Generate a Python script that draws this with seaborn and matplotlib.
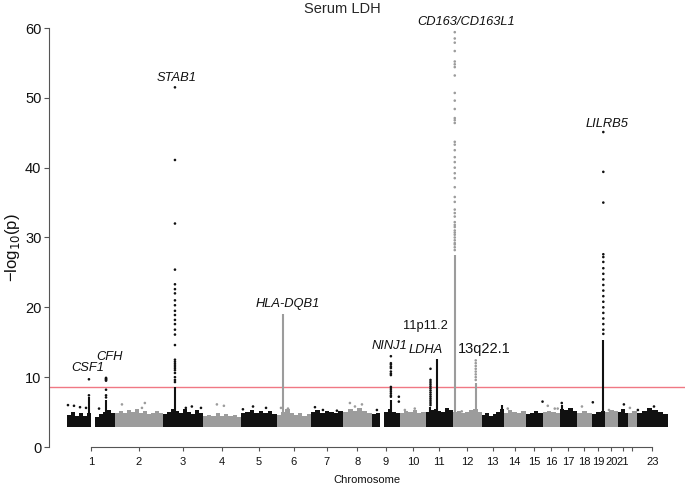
import numpy as np
import pandas as pd
import seaborn as sns
import matplotlib.pyplot as plt

# chromosome lengths (Mb) and tick labels
chrom_len = [247, 247, 206, 196, 185, 175, 165, 149, 144, 134, 139, 149,
             113, 113, 88, 88, 88, 77, 67, 67, 52, 46, 160]
chrom_labels = [str(i) for i in range(1, 22)] + ['', '23']

# top of the dense band of SNPs, read at equal steps along each chromosome (nan = gap)
band_profile = [
    [4.6, 5.0, 4.4, 4.8, 4.5, 4.9, np.nan, 4.3, 4.7, 5.0, 5.3, 4.8],
    [4.9, 5.2, 4.8, 5.3, 5.0, 5.4, 4.9, 5.1, 4.7, 4.9, 5.2, 4.8],
    [4.7, 5.0, 5.4, 5.2, 4.8, 5.4, 5.0, 4.7, 5.3, 4.9],
    [4.4, 4.6, 4.5, 4.8, 4.4, 4.7, 4.5, 4.6, 4.3],
    [4.8, 5.0, 5.3, 4.9, 5.1, 4.8, 5.2, 4.7],
    [4.6, 5.0, 5.4, 4.8, 4.6, 4.9, 4.5, 4.7],
    [5.0, 5.3, 4.9, 5.2, 5.0, 4.8, 5.1],
    [5.0, 5.5, 5.2, 5.6, 5.1, 4.9],
    [4.7, 4.9, np.nan, 5.0, 5.4, 5.0, 4.8],
    [4.9, 5.2, 5.0, 5.3, 4.8, 5.0],
    [5.0, 5.3, 5.5, 5.2, 5.0, 5.6, 5.3],
    [5.0, 5.2, 4.9, 5.0, 5.3, 5.5, 5.0],
    [4.6, 4.8, 4.5, 4.7, 5.0, 5.4],
    [4.9, 5.3, 5.0, 4.8, 5.1],
    [4.7, 4.9, 5.1, 4.8],
    [5.0, 5.2, 5.0, 4.9],
    [5.5, 5.3, 5.6, 5.2],
    [4.8, 5.1, 4.9],
    [4.7, 5.0, 5.2],
    [5.0, 5.3, 5.1],
    [5.0, 5.4, 4.8],
    [4.9, 5.1],
    [4.8, 5.2, 5.6, 5.3, 5.0, 4.7],
]

# dense stacks of SNPs drawn as solid columns
col_chrom = [1, 1, 3, 6, 9, 11, 11, 12, 12, 19, 13, 17]
col_pos = [113, 201, 62, 31, 98, 24, 57, 10, 118, 59, 103, 10]
col_top = [7.2, 6.7, 8.6, 19.0, 6.7, 5.7, 12.6, 27.5, 9.2, 15.3, 6.0, 6.0]

# single SNPs in the peaks
csf1_logp = [9.7, 7.4]
cfh_logp = [9.9, 9.8, 9.7, 9.6, 9.5, 8.2, 7.4, 7.1]
stab1_logp = [51.5, 41.1, 32.0, 25.4, 23.3, 22.6, 22.0, 21.0, 20.3, 19.5, 18.9,
              18.2, 17.6, 16.8, 16.1, 14.6, 12.5, 12.2, 11.9, 11.6, 11.3, 11.0,
              10.6, 10.0, 9.6, 9.3]
ninj1_logp = [13.0, 12.0, 11.8, 11.5, 11.3, 10.8, 10.5, 10.3, 8.6, 8.3, 8.0,
              7.7, 7.4, 7.2]
chr9b_logp = [7.2, 6.5]
ldha_logp = [11.2, 9.6, 9.3, 9.0, 8.7, 8.4, 8.1, 7.8, 7.5, 7.2, 6.9, 6.6, 6.3, 6.0]
cd163_logp = [59.4, 58.5, 57.9, 56.7, 55.2, 54.8, 54.4, 53.2, 50.7, 49.6, 48.4,
              47.1, 46.8, 46.4, 43.7, 43.3, 42.5, 41.5, 40.8, 40.0, 39.2, 38.5,
              37.2, 35.8, 35.1, 34.0, 33.5, 33.0, 32.2, 31.8, 31.5, 31.0, 30.7,
              30.4, 30.0, 29.6, 29.2, 29.0, 28.6, 28.2]
q13_logp = [12.4, 12.0, 11.6, 11.2, 10.8, 10.4, 10.0, 9.6]
lilrb5_logp = [45.1, 39.4, 35.0, 27.6, 27.2, 26.5, 25.6, 24.8, 24.0, 23.2, 22.4,
               21.6, 20.8, 20.0, 19.2, 18.4, 17.6, 16.8, 16.2]

peak_chrom = [1, 1, 3, 9, 9, 11, 12, 12, 19]
peak_pos = [113, 201, 62, 98, 139, 24, 10, 118, 59]
peak_logp = [csf1_logp, cfh_logp, stab1_logp, ninj1_logp, chr9b_logp,
             ldha_logp, cd163_logp, q13_logp, lilrb5_logp]

# scattered SNPs above the band
out_chrom = [1, 1, 1, 1, 1, 2, 2, 2, 3, 3, 3, 4, 4, 5, 5, 5, 6, 6, 7, 7, 7,
             8, 8, 8, 9, 10, 10, 12, 14, 15, 16, 16, 16, 17, 18, 19, 20, 21,
             22, 23, 23]
out_pos = [5, 36, 67, 98, 165, 36, 139, 154, 118, 149, 196, 72, 108, 10, 62,
           129, 21, 57, 21, 62, 134, 36, 62, 98, 26, 26, 77, 46, 21, 87, 26,
           62, 77, 10, 26, 5, 21, 31, 10, 5, 88]
out_logp = [6.0, 5.9, 5.7, 5.6, 5.5, 6.1, 5.6, 6.3, 5.6, 5.8, 5.6, 6.1, 5.9,
            5.4, 5.8, 5.6, 5.6, 5.5, 5.7, 5.3, 5.2, 6.3, 5.8, 6.1, 5.3, 5.3,
            5.5, 5.1, 5.5, 6.5, 5.9, 5.5, 5.5, 6.3, 5.8, 6.4, 5.3, 6.1, 5.6,
            5.3, 5.8]

threshold = 8.65

label_text = ['CSF1', 'CFH', 'STAB1', 'HLA-DQB1', 'NINJ1', '11p11.2', 'LDHA',
              '13q22.1', 'CD163/CD163L1', 'LILRB5']
label_chrom = [1, 1, 3, 6, 9, 11, 11, 13, 12, 19]
label_pos = [108, 221, 72, 57, 93, 0, 0, 15, 67, 77]
label_y = [11.3, 12.9, 52.9, 20.5, 14.5, 17.3, 13.9, 14.0, 60.9, 46.3]

# ---------------------------------------------------------------
sns.set_style('ticks')
plt.rcParams['font.family'] = ['Liberation Sans', 'DejaVu Sans']

chrom_start = np.concatenate([[0], np.cumsum(chrom_len)[:-1]])
chrom_mid = chrom_start + np.array(chrom_len) / 2
black, grey = '#111111', '#9c9c9c'


def chrom_colour(c):
    return black if c % 2 == 1 else grey


fig = plt.figure(figsize=(6.85, 4.86), dpi=100)
ax = fig.add_axes([49 / 685, 1 - 447 / 486, 1 - 49 / 685, (447 - 28) / 486])

base = 2.8
for i, prof in enumerate(band_profile):
    vals = np.nan_to_num(np.array(prof, dtype=float), nan=base)
    edges = np.linspace(chrom_start[i], chrom_start[i] + chrom_len[i], len(vals) + 1)
    ax.fill_between(edges, base, np.append(vals, vals[-1]), step='post',
                    color=chrom_colour(i + 1), linewidth=0)

col_x = [chrom_start[c - 1] + p for c, p in zip(col_chrom, col_pos)]
ax.vlines(col_x, base, col_top, colors=[chrom_colour(c) for c in col_chrom], lw=1.5)

rows = []
for c, p, vals in zip(peak_chrom, peak_pos, peak_logp):
    for v in vals:
        rows.append((c, chrom_start[c - 1] + p, v))
for c, p, v in zip(out_chrom, out_pos, out_logp):
    rows.append((c, chrom_start[c - 1] + p, v))
pts = pd.DataFrame(rows, columns=['chrom', 'x', 'logp'])
pts['grp'] = np.where(pts['chrom'] % 2 == 1, 'odd', 'even')
sns.scatterplot(data=pts, x='x', y='logp', hue='grp',
                palette={'odd': black, 'even': grey}, s=3.5, linewidth=0,
                legend=False, ax=ax)

ax.axhline(threshold, color='#f07884', lw=1.0, zorder=0.5)

for t, c, p, y in zip(label_text, label_chrom, label_pos, label_y):
    italic = t not in ('11p11.2', '13q22.1')
    size = 10.5 if t == '13q22.1' else 9.3
    ax.text(chrom_start[c - 1] + p, y, t, ha='center', va='center',
            style='italic' if italic else 'normal', fontsize=size,
            color='#111111', clip_on=False)

ax.set_xlim((49 - 67) * 5.15, (685 - 67) * 5.15)
ax.set_ylim(0, 60)
ax.set_xticks(chrom_mid)
ax.set_xticklabels(chrom_labels, fontsize=8)
ax.set_yticks(range(0, 61, 10))
ax.tick_params(axis='y', labelsize=10.5, length=3.5, width=0.8,
               color='#555555', labelcolor='#111111', pad=2)
ax.tick_params(axis='x', length=3, width=0.8, color='#555555',
               labelcolor='#111111', pad=4)
ax.set_xlabel('Chromosome', fontsize=8, labelpad=6, color='#111111')
ax.set_ylabel('')
sns.despine(ax=ax, trim=True)
for s in ('left', 'bottom'):
    ax.spines[s].set_color('#555555')
    ax.spines[s].set_linewidth(0.8)

fig.text(12 / 685, 1 - 248 / 486, '\u2212log$_{10}$(p)', rotation=90,
         ha='center', va='center', fontsize=12, color='#111111')
fig.suptitle('Serum LDH', y=1 - 9 / 486, va='center', fontsize=10.5)

fig.savefig('out.png', dpi=100)
